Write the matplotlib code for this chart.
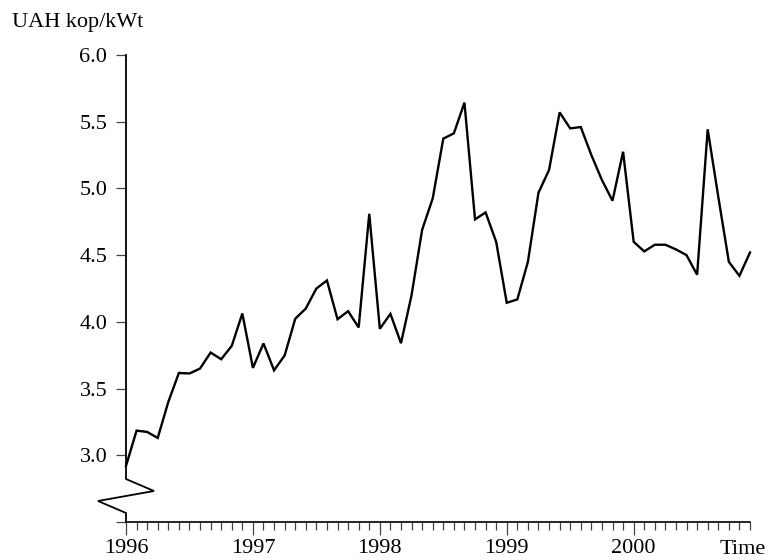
import numpy as np
import matplotlib
matplotlib.use("Agg")
import matplotlib.pyplot as plt
from matplotlib.ticker import FixedLocator, MultipleLocator

# Monthly electricity price, UAH kop/kWt, Jan 1996 - Dec 2000
start_year = 1996
price = [
    2.92, 3.185, 3.175, 3.13, 3.40, 3.617, 3.613, 3.65, 3.77, 3.72, 3.82, 4.063,
    3.655, 3.838, 3.637, 3.748, 4.023, 4.10, 4.25, 4.31, 4.02, 4.08, 3.958, 4.81,
    3.948, 4.06, 3.84, 4.20, 4.69, 4.925, 5.373, 5.413, 5.643, 4.768, 4.82, 4.60,
    4.143, 4.168, 4.45, 4.968, 5.138, 5.57, 5.45, 5.46, 5.25, 5.063, 4.908, 5.275,
    4.60, 4.528, 4.578, 4.578, 4.543, 4.50, 4.353, 5.443, 4.938, 4.45, 4.345, 4.52,
]
year_ticks = [1996, 1997, 1998, 1999, 2000]
y_ticks = [2.5, 3.0, 3.5, 4.0, 4.5, 5.0, 5.5, 6.0]
y_labels = ["", "3.0", "3.5", "4.0", "4.5", "5.0", "5.5", "6.0"]

t = start_year + np.arange(len(price)) / 12.0

plt.rcParams["font.family"] = ["Liberation Serif", "DejaVu Serif"]
FS = 16

fig = plt.figure(figsize=(7.72, 5.6), dpi=100)
W, H = 772, 560
left, right, top, bottom = 126, 750, 55, 522
ax = fig.add_axes([left / W, 1 - bottom / H, (right - left) / W, (bottom - top) / H])

ax.plot(t, price, color="black", lw=1.7, solid_joinstyle="miter", clip_on=False)

ax.set_xlim(t[0], t[-1])
ax.set_ylim(2.5, 6.0)

for s in ("top", "right", "left"):
    ax.spines[s].set_visible(False)
ax.spines["bottom"].set_linewidth(1.2)

# y axis with a break near the bottom
yb = [
    (0.0, 1.0), (0.0, 0.092), (0.0449, 0.0664), (-0.0449, 0.045),
    (0.0, 0.0193), (0.0, 0.0),
]
ax.plot([p[0] for p in yb], [p[1] for p in yb], color="black", lw=1.3,
        transform=ax.transAxes, clip_on=False, solid_joinstyle="miter")

ax.yaxis.set_major_locator(FixedLocator(y_ticks))
ax.set_yticklabels(y_labels)
ax.xaxis.set_major_locator(FixedLocator(year_ticks))
ax.set_xticklabels([str(y) for y in year_ticks])
ax.xaxis.set_minor_locator(MultipleLocator(1 / 12))

ax.tick_params(axis="y", which="major", direction="out", length=7.5, width=0.9,
               color="#444444", labelsize=FS, pad=6)
ax.tick_params(axis="x", which="major", direction="out", length=9.5, width=0.9,
               color="#444444", labelsize=FS, pad=3)
ax.tick_params(axis="x", which="minor", direction="out", length=5.5, width=0.9,
               color="#444444")

fig.text(12 / W, 1 - 22 / H, "UAH kop/kWt", fontsize=FS, ha="left", va="center")
fig.text(720 / W, 1 - 549 / H, "Time", fontsize=FS, ha="left", va="center")

fig.savefig("out.png", dpi=100)
